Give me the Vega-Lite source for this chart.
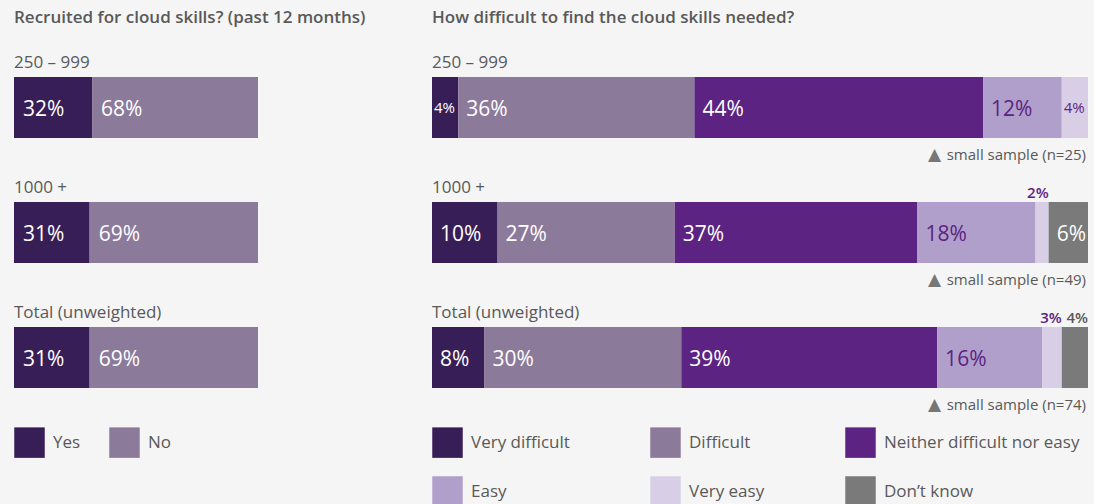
{
  "$schema": "https://vega.github.io/schema/vega-lite/v6.json",
  "background": "#f5f5f5",
  "padding": {"left": 14, "top": 9, "right": 6, "bottom": 0},
  "bounds": "flush",
  "spacing": 174,
  "config": {
    "font": "Open Sans",
    "view": {"stroke": null},
    "title": {"anchor": "start", "frame": "group", "fontSize": 17, "fontWeight": 600, "color": "#595959", "baseline": "alphabetic", "offset": 18}
  },
  "datasets": {
    "recruit": [
      {"group": "250 – 999", "answer": "Yes", "order": 1, "value": 0.32},
      {"group": "250 – 999", "answer": "No", "order": 2, "value": 0.68},
      {"group": "1000 +", "answer": "Yes", "order": 1, "value": 0.31},
      {"group": "1000 +", "answer": "No", "order": 2, "value": 0.69},
      {"group": "Total (unweighted)", "answer": "Yes", "order": 1, "value": 0.31},
      {"group": "Total (unweighted)", "answer": "No", "order": 2, "value": 0.69}
    ],
    "difficulty": [
      {"group": "250 – 999", "category": "Very difficult", "order": 1, "value": 0.04},
      {"group": "250 – 999", "category": "Difficult", "order": 2, "value": 0.36},
      {"group": "250 – 999", "category": "Neither difficult nor easy", "order": 3, "value": 0.44},
      {"group": "250 – 999", "category": "Easy", "order": 4, "value": 0.12},
      {"group": "250 – 999", "category": "Very easy", "order": 5, "value": 0.04},
      {"group": "1000 +", "category": "Very difficult", "order": 1, "value": 0.10},
      {"group": "1000 +", "category": "Difficult", "order": 2, "value": 0.27},
      {"group": "1000 +", "category": "Neither difficult nor easy", "order": 3, "value": 0.37},
      {"group": "1000 +", "category": "Easy", "order": 4, "value": 0.18},
      {"group": "1000 +", "category": "Very easy", "order": 5, "value": 0.02},
      {"group": "1000 +", "category": "Don’t  know", "order": 6, "value": 0.06},
      {"group": "Total (unweighted)", "category": "Very difficult", "order": 1, "value": 0.08},
      {"group": "Total (unweighted)", "category": "Difficult", "order": 2, "value": 0.30},
      {"group": "Total (unweighted)", "category": "Neither difficult nor easy", "order": 3, "value": 0.39},
      {"group": "Total (unweighted)", "category": "Easy", "order": 4, "value": 0.16},
      {"group": "Total (unweighted)", "category": "Very easy", "order": 5, "value": 0.03},
      {"group": "Total (unweighted)", "category": "Don’t  know", "order": 6, "value": 0.04}
    ],
    "groups": [
      {"group": "250 – 999", "note": "small sample (n=25)"},
      {"group": "1000 +", "note": "small sample (n=49)"},
      {"group": "Total (unweighted)", "note": "small sample (n=74)"}
    ]
  },
  "hconcat": [
    {
      "title": {"text": "Recruited for cloud skills? (past 12 months)"},
      "width": 244,
      "height": 375,
      "layer": [
        {
          "data": {"name": "recruit"},
          "transform": [{"stack": "value", "groupby": ["group"], "sort": [{"field": "order"}], "as": ["x0", "x1"]}],
          "mark": {"type": "bar"},
          "encoding": {
            "x": {"field": "x0", "type": "quantitative", "scale": {"domain": [0, 1], "nice": false, "zero": false}, "axis": null},
            "x2": {"field": "x1"},
            "y": {"field": "group", "type": "nominal", "scale": {"domain": ["250 – 999", "1000 +", "Total (unweighted)"], "paddingInner": 0.512, "paddingOuter": 0.256}, "axis": null},
            "color": {
              "field": "answer", "type": "nominal",
              "scale": {"domain": ["Yes", "No"], "range": ["#381e56", "#8c7a9b"]},
              "legend": {"orient": "none", "legendX": 0, "legendY": 382, "direction": "horizontal", "columns": 2, "title": null, "symbolType": "square", "symbolSize": 930, "symbolStrokeWidth": 0, "symbolOpacity": 1, "labelFontSize": 17, "labelColor": "#595959", "labelFont": "Open Sans", "labelOffset": 8, "columnPadding": 28, "rowPadding": 18}
            }
          }
        },
        {
          "data": {"name": "recruit"},
          "transform": [{"stack": "value", "groupby": ["group"], "sort": [{"field": "order"}], "as": ["x0", "x1"]}],
          "mark": {"type": "text", "align": "left", "baseline": "alphabetic", "dx": 9, "dy": 8, "fontSize": 21, "color": "#ffffff"},
          "encoding": {
            "x": {"field": "x0", "type": "quantitative"},
            "y": {"field": "group", "type": "nominal"},
            "text": {"field": "value", "type": "quantitative", "format": ".0%"}
          }
        },
        {
          "data": {"name": "groups"},
          "mark": {"type": "text", "align": "left", "baseline": "alphabetic", "dy": -39.5, "fontSize": 17, "color": "#595959"},
          "encoding": {
            "x": {"datum": 0, "type": "quantitative"},
            "y": {"field": "group", "type": "nominal"},
            "text": {"field": "group", "type": "nominal"}
          }
        }
      ]
    },
    {
      "title": {"text": "How difficult to find the cloud skills needed?"},
      "width": 656,
      "height": 375,
      "layer": [
        {
          "data": {"name": "difficulty"},
          "transform": [{"stack": "value", "groupby": ["group"], "sort": [{"field": "order"}], "as": ["x0", "x1"]}],
          "mark": {"type": "bar"},
          "encoding": {
            "x": {"field": "x0", "type": "quantitative", "scale": {"domain": [0, 1], "nice": false, "zero": false}, "axis": null},
            "x2": {"field": "x1"},
            "y": {"field": "group", "type": "nominal", "scale": {"domain": ["250 – 999", "1000 +", "Total (unweighted)"], "paddingInner": 0.512, "paddingOuter": 0.256}, "axis": null},
            "color": {
              "field": "category", "type": "nominal",
              "scale": {"domain": ["Very difficult", "Difficult", "Neither difficult nor easy", "Easy", "Very easy", "Don’t  know"], "range": ["#381e56", "#8c7a9b", "#5c2382", "#b09fcb", "#d8cfe7", "#7a7a7a"]},
              "legend": {"orient": "none", "legendX": 0, "legendY": 382, "direction": "horizontal", "columns": 3, "title": null, "symbolType": "square", "symbolSize": 930, "symbolStrokeWidth": 0, "symbolOpacity": 1, "labelFontSize": 17, "labelColor": "#595959", "labelFont": "Open Sans", "labelOffset": 8, "columnPadding": 80, "rowPadding": 18, "labelLimit": 400}
            }
          }
        },
        {
          "data": {"name": "difficulty"},
          "transform": [
            {"stack": "value", "groupby": ["group"], "sort": [{"field": "order"}], "as": ["x0", "x1"]},
            {"filter": "datum.value >= 0.05"}
          ],
          "mark": {"type": "text", "align": "left", "baseline": "alphabetic", "dx": 8, "dy": 8, "fontSize": 21},
          "encoding": {
            "x": {"field": "x0", "type": "quantitative"},
            "y": {"field": "group", "type": "nominal"},
            "text": {"field": "value", "type": "quantitative", "format": ".0%"},
            "color": {"condition": {"test": "datum.category == 'Easy' || datum.category == 'Very easy'", "value": "#5c2382"}, "value": "#ffffff"}
          }
        },
        {
          "data": {"name": "difficulty"},
          "transform": [
            {"stack": "value", "groupby": ["group"], "sort": [{"field": "order"}], "as": ["x0", "x1"]},
            {"filter": "datum.value < 0.05 && datum.group == '250 – 999'"}
          ],
          "mark": {"type": "text", "align": "left", "baseline": "alphabetic", "dx": 2, "dy": 5, "fontSize": 15},
          "encoding": {
            "x": {"field": "x0", "type": "quantitative"},
            "y": {"field": "group", "type": "nominal"},
            "text": {"field": "value", "type": "quantitative", "format": ".0%"},
            "color": {"condition": {"test": "datum.category == 'Easy' || datum.category == 'Very easy'", "value": "#5c2382"}, "value": "#ffffff"}
          }
        },
        {
          "data": {"name": "difficulty"},
          "transform": [
            {"stack": "value", "groupby": ["group"], "sort": [{"field": "order"}], "as": ["x0", "x1"]},
            {"filter": "datum.value < 0.05 && datum.group != '250 – 999'"}
          ],
          "mark": {"type": "text", "align": "right", "baseline": "alphabetic", "dx": 0, "dy": -35, "fontSize": 15, "fontWeight": 600},
          "encoding": {
            "x": {"field": "x1", "type": "quantitative"},
            "y": {"field": "group", "type": "nominal"},
            "text": {"field": "value", "type": "quantitative", "format": ".0%"},
            "color": {"condition": {"test": "datum.category == 'Very easy'", "value": "#5c2382"}, "value": "#595959"}
          }
        },
        {
          "data": {"name": "groups"},
          "mark": {"type": "text", "align": "left", "baseline": "alphabetic", "dy": -39.5, "fontSize": 17, "color": "#595959"},
          "encoding": {
            "x": {"datum": 0, "type": "quantitative"},
            "y": {"field": "group", "type": "nominal"},
            "text": {"field": "group", "type": "nominal"}
          }
        },
        {
          "data": {"name": "groups"},
          "mark": {"type": "text", "align": "right", "baseline": "alphabetic", "dx": -2, "dy": 52, "fontSize": 15, "color": "#595959"},
          "encoding": {
            "x": {"datum": 1, "type": "quantitative"},
            "y": {"field": "group", "type": "nominal"},
            "text": {"field": "note", "type": "nominal"}
          }
        },
        {
          "data": {"name": "groups"},
          "mark": {"type": "text", "align": "right", "baseline": "alphabetic", "dx": -147, "dy": 52, "fontSize": 17, "color": "#777777", "font": "DejaVu Sans"},
          "encoding": {
            "x": {"datum": 1, "type": "quantitative"},
            "y": {"field": "group", "type": "nominal"},
            "text": {"value": "▲"}
          }
        }
      ]
    }
  ],
  "resolve": {"scale": {"color": "independent"}, "legend": {"color": "independent"}}
}
